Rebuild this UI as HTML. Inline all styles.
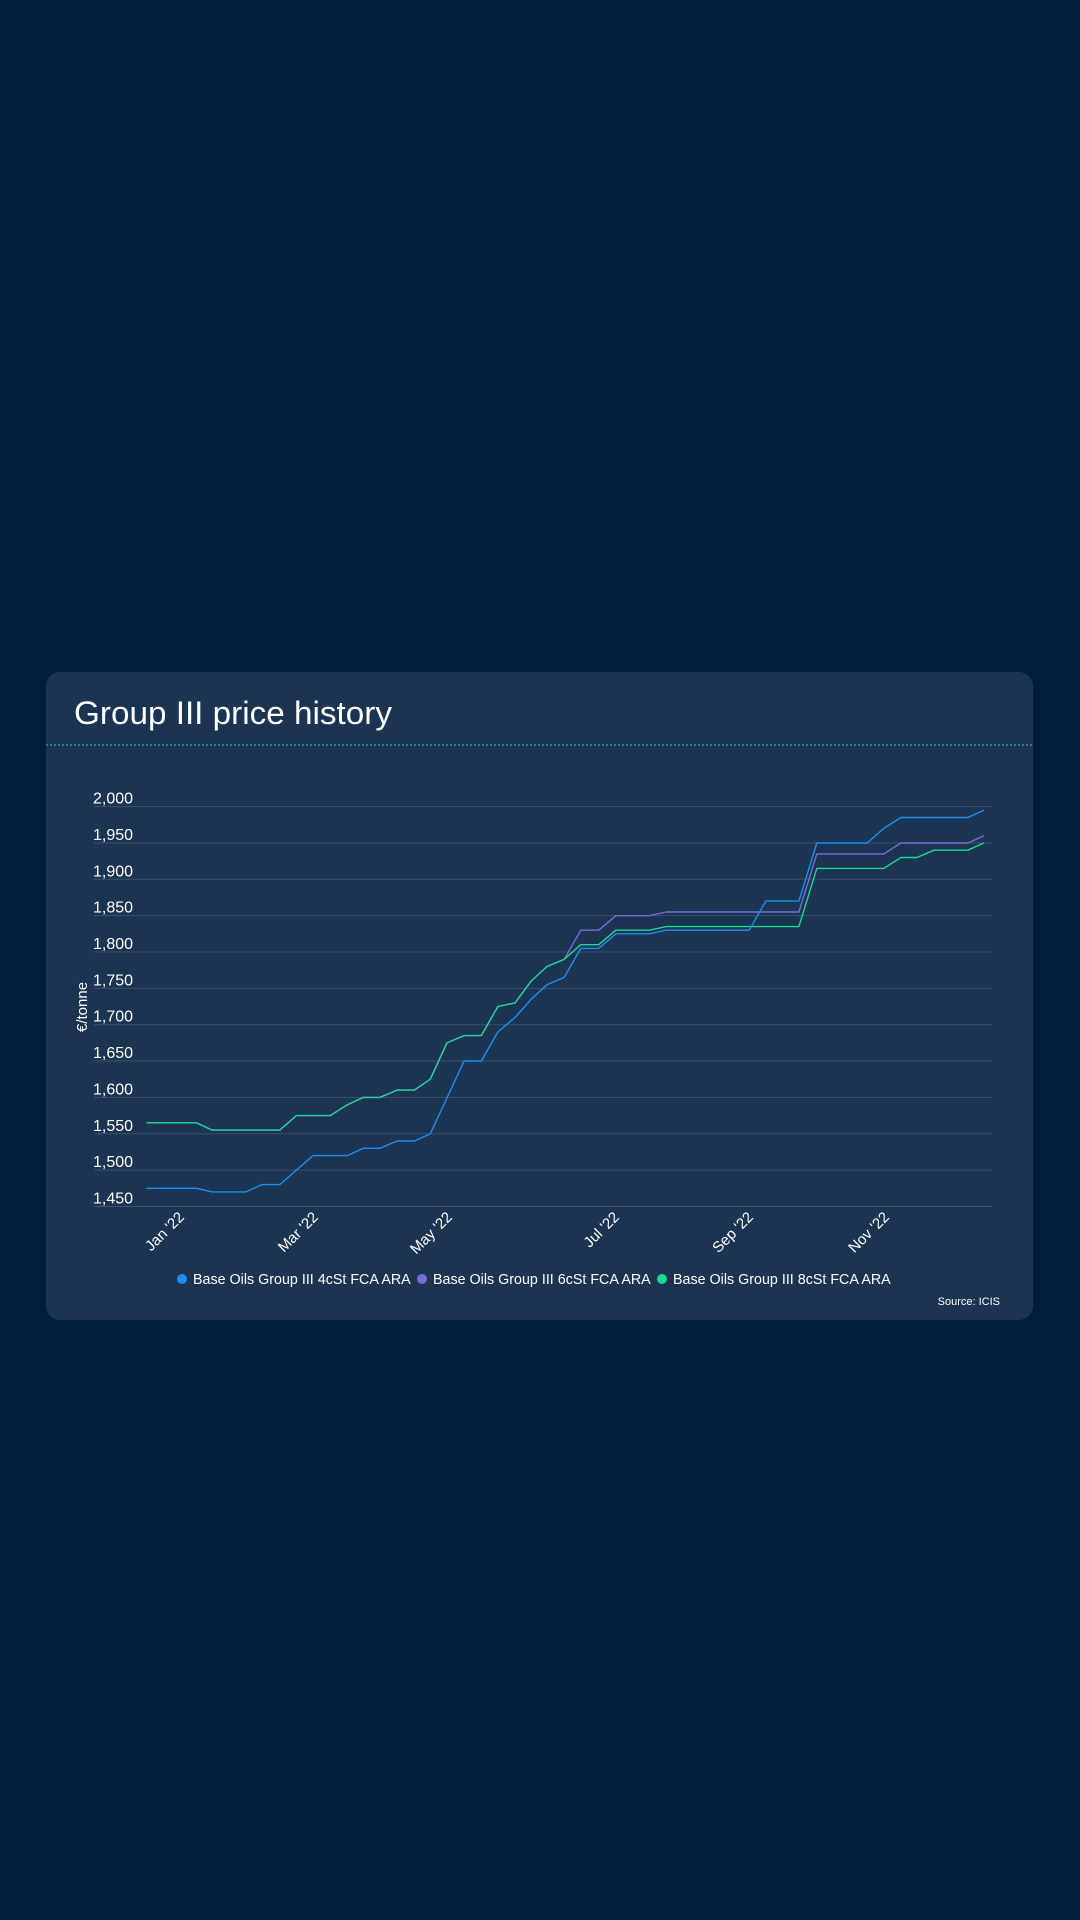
<!DOCTYPE html>
<html><head><meta charset="utf-8"><style>
html,body{margin:0;padding:0;width:1080px;height:1920px;background:#001e3f;overflow:hidden;font-family:"Liberation Sans",sans-serif}
.card{position:absolute;left:46px;top:672px;width:987px;height:648px;background:#1a3451;border-radius:14px}
</style></head><body>
<div class="card"></div>
<svg id="s" width="1080" height="1920" style="position:absolute;left:0;top:0" xmlns="http://www.w3.org/2000/svg" font-family="Liberation Sans, sans-serif">
<text x="74" y="724" fill="#ffffff" font-size="32" textLength="318" lengthAdjust="spacingAndGlyphs">Group III price history</text>
<line x1="46" y1="745" x2="1033" y2="745" stroke="#2aa8d8" stroke-width="1.2" stroke-dasharray="2,2"/>
<g id="grid"></g>
<text transform="translate(87,1007) rotate(-90)" fill="#fff" font-size="15" text-anchor="middle">€/tonne</text>
<g fill="#fff" font-size="15" text-anchor="end">
<text transform="translate(185,1218) rotate(-45)">Jan '22</text>
<text transform="translate(319,1218) rotate(-45)">Mar '22</text>
<text transform="translate(453,1218) rotate(-45)">May '22</text>
<text transform="translate(620,1218) rotate(-45)">Jul '22</text>
<text transform="translate(754,1218) rotate(-45)">Sep '22</text>
<text transform="translate(890,1218) rotate(-45)">Nov '22</text>
</g>
<g font-size="14.3" fill="#fff">
<circle cx="182" cy="1279" r="5" fill="#1e8ff0"/><text x="193" y="1284">Base Oils Group III 4cSt FCA ARA</text>
<circle cx="422" cy="1279" r="5" fill="#7a6ed6"/><text x="433" y="1284">Base Oils Group III 6cSt FCA ARA</text>
<circle cx="662" cy="1279" r="5" fill="#1ed894"/><text x="673" y="1284">Base Oils Group III 8cSt FCA ARA</text>
<text x="1000" y="1305" font-size="11" text-anchor="end">Source: ICIS</text>
</g>
<g id="lines" fill="none" stroke-width="1.4" stroke-linejoin="round"></g>
</svg>
<script>
var NS="http://www.w3.org/2000/svg";
function Y(v){return 806.6+(2000-v)/50*36.35;}
function X(z){return 40+z/1.568;}
var g=document.getElementById('grid');
for(var v=1450;v<=2000;v+=50){
 var l=document.createElementNS(NS,'line');l.setAttribute('x1',94);l.setAttribute('x2',992);l.setAttribute('y1',Y(v));l.setAttribute('y2',Y(v));l.setAttribute('stroke','#3a526d');l.setAttribute('stroke-width','1');g.appendChild(l);
 var t=document.createElementNS(NS,'text');t.setAttribute('x',93);t.setAttribute('y',Y(v)-3);t.setAttribute('fill','#fff');t.setAttribute('font-size','16');t.textContent=v.toLocaleString('en-US');g.appendChild(t);
}
var blue=[[167,1475],[245,1475],[270,1470],[323,1470],[348,1480],[376,1480],[428,1520],[482,1520],[507,1530],[533,1530],[560,1540],[587,1540],[612,1550],[665,1650],[692,1650],[718,1690],[745,1710],[770,1735],[795,1755],[822,1765],[848,1805],[876,1805],[903,1825],[955,1825],[982,1830],[1112,1830],[1138,1870],[1190,1870],[1218,1950],[1297,1950],[1323,1970],[1350,1985],[1455,1985],[1480,1995]];
var green=[[167,1565],[245,1565],[270,1555],[376,1555],[402,1575],[455,1575],[482,1590],[507,1600],[533,1600],[560,1610],[587,1610],[612,1625],[638,1675],[665,1685],[692,1685],[718,1725],[745,1730],[770,1760],[795,1780],[822,1790],[848,1810],[876,1810],[903,1830],[955,1830],[982,1835],[1190,1835],[1218,1915],[1323,1915],[1350,1930],[1375,1930],[1402,1940],[1455,1940],[1480,1950]];
var purple=green.slice(0,20).concat([[848,1830],[876,1830],[903,1850],[955,1850],[982,1855],[1190,1855],[1218,1935],[1323,1935],[1350,1950],[1455,1950],[1480,1960]]);
var L=document.getElementById('lines');
[[purple,'#7a6ed6'],[green,'#1ed894'],[blue,'#1e8ff0']].forEach(function(s){
 var p=document.createElementNS(NS,'polyline');
 p.setAttribute('points',s[0].map(function(a){return X(a[0]).toFixed(1)+','+Y(a[1]).toFixed(1)}).join(' '));
 p.setAttribute('stroke',s[1]);L.appendChild(p);
});
</script>
</body></html>
